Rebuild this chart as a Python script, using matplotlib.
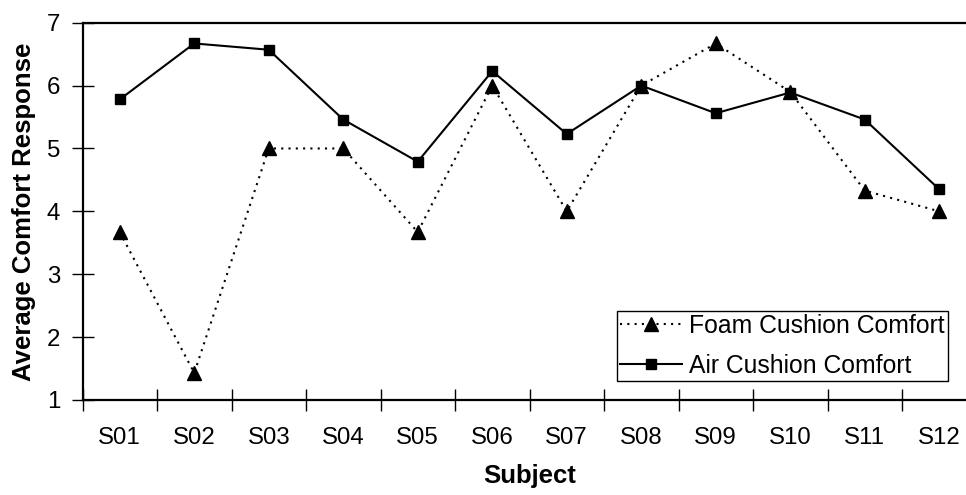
"""
Average comfort response per subject, foam vs air cushion.
"""
import matplotlib
matplotlib.use("Agg")
import matplotlib.pyplot as plt
from matplotlib.ticker import FixedLocator, NullFormatter, FixedFormatter

subjects = ["S01", "S02", "S03", "S04", "S05", "S06",
            "S07", "S08", "S09", "S10", "S11", "S12"]
foam = [3.67, 1.43, 5.0, 5.0, 3.67, 6.0, 4.0, 6.0, 6.67, 5.9, 4.33, 4.0]
air = [5.78, 6.67, 6.57, 5.46, 4.79, 6.23, 5.23, 6.0, 5.56, 5.89, 5.46, 4.35]
y_ticks = [1, 2, 3, 4, 5, 6, 7]

plt.rcParams["font.family"] = ["Liberation Sans", "DejaVu Sans"]
plt.rcParams["font.size"] = 17.3

W, H = 966, 495
fig = plt.figure(figsize=(W / 100, H / 100), dpi=100)
# plot area runs a little past the right edge, as in the cropped original
ax = fig.add_axes([82.5 / W, (H - 400) / H, 894 / W, 377.3 / H])

x = list(range(len(subjects)))
ax.plot(x, foam, color="black", lw=1.5, linestyle=(0, (1, 2.5)),
        dash_capstyle="butt", marker="^", markersize=10,
        label="Foam Cushion Comfort")
ax.plot(x, air, color="black", lw=1.5, marker="s", markersize=7.7,
        label="Air Cushion Comfort")

ax.set_xlim(-0.5, len(subjects) - 0.5)
ax.set_ylim(1, 7)
ax.set_yticks(y_ticks)

# ticks between categories, labels under the categories
ax.xaxis.set_major_locator(FixedLocator([i - 0.5 for i in range(len(subjects) + 1)]))
ax.xaxis.set_major_formatter(NullFormatter())
ax.xaxis.set_minor_locator(FixedLocator(x))
ax.xaxis.set_minor_formatter(FixedFormatter(subjects))
ax.tick_params(axis="x", which="major", direction="inout", length=16, width=1)
ax.tick_params(axis="x", which="minor", length=0, pad=19.5)
ax.tick_params(axis="y", direction="inout", length=16, width=1, pad=8)

for side in ["top", "left", "bottom", "right"]:
    ax.spines[side].set_linewidth(1.6)

ax.set_xlabel("Subject", fontweight="bold", fontsize=18.5)
ax.set_ylabel("Average Comfort Response", fontweight="bold", fontsize=18.5)
ax.xaxis.set_label_coords(0.5, -0.170)
ax.yaxis.set_label_coords(-0.052, 0.5)

leg = ax.legend(loc="upper right", bbox_to_anchor=(947.7 / W, (H - 310.7) / H),
                bbox_transform=fig.transFigure, borderaxespad=0,
                fancybox=False, framealpha=1, edgecolor="black",
                fontsize=17.8, handlelength=2.5, borderpad=0.12,
                labelspacing=0.66, handletextpad=0.3)
leg.get_frame().set_linewidth(1)

fig.savefig("out.png", dpi=100)
